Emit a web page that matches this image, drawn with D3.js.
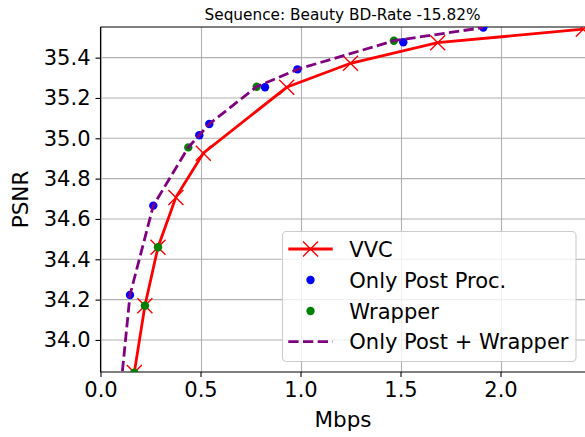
<!DOCTYPE html>
<html><head><meta charset="utf-8">
<script src="https://cdn.jsdelivr.net/npm/d3@7"></script>
<style>
body{margin:0;background:#fff;}
text{font-family:"DejaVu Sans",sans-serif;fill:#000;}
</style></head>
<body>
<svg id="c" width="585" height="437"></svg>
<script>
const title = "Sequence: Beauty BD-Rate -15.82%";
const xTicks = [0.0, 0.5, 1.0, 1.5, 2.0];
const yTicks = [34.0, 34.2, 34.4, 34.6, 34.8, 35.0, 35.2, 35.4];
const seriesNames = ["VVC", "Only Post Proc.", "Wrapper", "Only Post + Wrapper"];
const vvcRate = [0.169, 0.222, 0.2875, 0.377, 0.514, 0.931, 1.25, 1.686, 2.414];
const vvcPsnr = [33.838, 34.170, 34.460, 34.707, 34.926, 35.253, 35.372, 35.474, 35.541];
const postRate = [0.1475, 0.264, 0.494, 0.544, 0.8225, 0.985, 1.514, 1.914];
const postPsnr = [34.223, 34.666, 35.015, 35.071, 35.253, 35.342, 35.476, 35.549];
const wrapRate = [0.169, 0.222, 0.2875, 0.439, 0.781, 1.467];
const wrapPsnr = [33.838, 34.170, 34.460, 34.955, 35.256, 35.484];
const combRate = [0.095, 0.1475, 0.264, 0.439, 0.494, 0.544, 0.781, 0.985, 1.467, 1.914];
const combPsnr = [33.70, 34.223, 34.666, 34.955, 35.015, 35.071, 35.256, 35.342, 35.484, 35.549];

const svg = d3.select("#c");
const L = 100.5, T = 27, B = 372, Rr = 600.5;
const x = d3.scaleLinear().domain([0, 2.5]).range([L, Rr]);
const y = d3.scaleLinear().domain([33.841, 35.552]).range([B, T]);

svg.append("defs").append("clipPath").attr("id","clip")
  .append("rect").attr("x", L).attr("y", T).attr("width", Rr - L).attr("height", B - T);

// grid
const grid = svg.append("g");
grid.selectAll(".gx").data(xTicks).join("line")
  .attr("x1", d => Math.round(x(d)) + 0.5).attr("x2", d => Math.round(x(d)) + 0.5)
  .attr("y1", T).attr("y2", B).attr("stroke", "#b0b0b0").attr("stroke-width", 1.1);
grid.selectAll(".gy").data(yTicks).join("line")
  .attr("y1", d => y(d)).attr("y2", d => y(d))
  .attr("x1", L).attr("x2", Rr).attr("stroke", "#b0b0b0").attr("stroke-width", 1.1);

// axes
const xa = svg.append("g").attr("transform", `translate(0,${B})`)
  .call(d3.axisBottom(x).tickValues(xTicks).tickFormat(d3.format(".1f")).tickSize(5).tickPadding(5));
const ya = svg.append("g").attr("transform", `translate(${L},0)`)
  .call(d3.axisLeft(y).tickValues(yTicks).tickFormat(d3.format(".1f")).tickSize(5).tickPadding(5));
[xa, ya].forEach(a => {
  a.select(".domain").remove();
  a.selectAll("line").attr("stroke", "#000").attr("stroke-width", 1.1);
  a.selectAll("text").attr("font-size", 21).attr("font-family", "DejaVu Sans").attr("fill", "#000");
});
// spines
svg.append("line").attr("x1", L).attr("x2", L).attr("y1", T).attr("y2", B).attr("stroke", "#000").attr("stroke-width", 1.1);
svg.append("line").attr("x1", L).attr("x2", Rr).attr("y1", B).attr("y2", B).attr("stroke", "#000").attr("stroke-width", 1.1);
svg.append("line").attr("x1", L).attr("x2", Rr).attr("y1", T).attr("y2", T).attr("stroke", "#000").attr("stroke-width", 1.1);

const plot = svg.append("g").attr("clip-path", "url(#clip)");
const line = d3.line().x(d => x(d[0])).y(d => y(d[1]));
const vvc = vvcRate.map((r, i) => [r, vvcPsnr[i]]);
const post = postRate.map((r, i) => [r, postPsnr[i]]);
const wrap = wrapRate.map((r, i) => [r, wrapPsnr[i]]);
const comb = combRate.map((r, i) => [r, combPsnr[i]]);

plot.append("path").datum(vvc).attr("d", line).attr("fill", "none").attr("stroke", "red").attr("stroke-width", 2.8);
const xs = 7.5;
plot.selectAll(".vx").data(vvc).join("path")
  .attr("d", d => { const cx = x(d[0]), cy = y(d[1]); return `M${cx-xs},${cy-xs}L${cx+xs},${cy+xs}M${cx-xs},${cy+xs}L${cx+xs},${cy-xs}`; })
  .attr("stroke", "red").attr("stroke-width", 1.4).attr("fill", "none");
plot.selectAll(".pp").data(post).join("circle")
  .attr("cx", d => x(d[0])).attr("cy", d => y(d[1])).attr("r", 4.2).attr("fill", "blue");
plot.selectAll(".wp").data(wrap).join("circle")
  .attr("cx", d => x(d[0])).attr("cy", d => y(d[1])).attr("r", 4.2).attr("fill", "green");
plot.append("path").datum(comb).attr("d", line).attr("fill", "none").attr("stroke", "purple")
  .attr("stroke-width", 2.8).attr("stroke-dasharray", "10.3,4.4");

// title and labels
svg.append("text").attr("x", 342.5).attr("y", 20).attr("text-anchor", "middle").attr("font-size", 15.3).text(title);
svg.append("text").attr("x", 343).attr("y", 427).attr("text-anchor", "middle").attr("font-size", 21.5).text("Mbps");
svg.append("text").attr("transform", "translate(27.5,199.5) rotate(-90)").attr("text-anchor", "middle").attr("font-size", 21.5).text("PSNR");

// legend
const lg = svg.append("g");
lg.append("rect").attr("x", 282.5).attr("y", 231.5).attr("width", 293.5).attr("height", 130).attr("rx", 4)
  .attr("fill", "white").attr("fill-opacity", 0.8).attr("stroke", "#cccccc").attr("stroke-width", 1.1);
const rowsY = [249, 280, 311, 341.7];
const hx1 = 288.3, hx2 = 332.7, hm = 310.5, tx = 349.3;
lg.append("line").attr("x1", hx1).attr("x2", hx2).attr("y1", rowsY[0]).attr("y2", rowsY[0]).attr("stroke", "red").attr("stroke-width", 2.8);
lg.append("path").attr("d", `M${hm-xs},${rowsY[0]-xs}L${hm+xs},${rowsY[0]+xs}M${hm-xs},${rowsY[0]+xs}L${hm+xs},${rowsY[0]-xs}`)
  .attr("stroke", "red").attr("stroke-width", 1.4);
lg.append("circle").attr("cx", hm).attr("cy", rowsY[1]).attr("r", 4.2).attr("fill", "blue");
lg.append("circle").attr("cx", hm).attr("cy", rowsY[2]).attr("r", 4.2).attr("fill", "green");
lg.append("line").attr("x1", hx1).attr("x2", hx2).attr("y1", rowsY[3]).attr("y2", rowsY[3]).attr("stroke", "purple")
  .attr("stroke-width", 2.8).attr("stroke-dasharray", "10.3,4.4");
lg.selectAll(".lt").data(seriesNames).join("text")
  .attr("x", tx).attr("y", (d, i) => rowsY[i]).attr("dy", "0.36em").attr("font-size", 21).text(d => d);
</script>
</body></html>
